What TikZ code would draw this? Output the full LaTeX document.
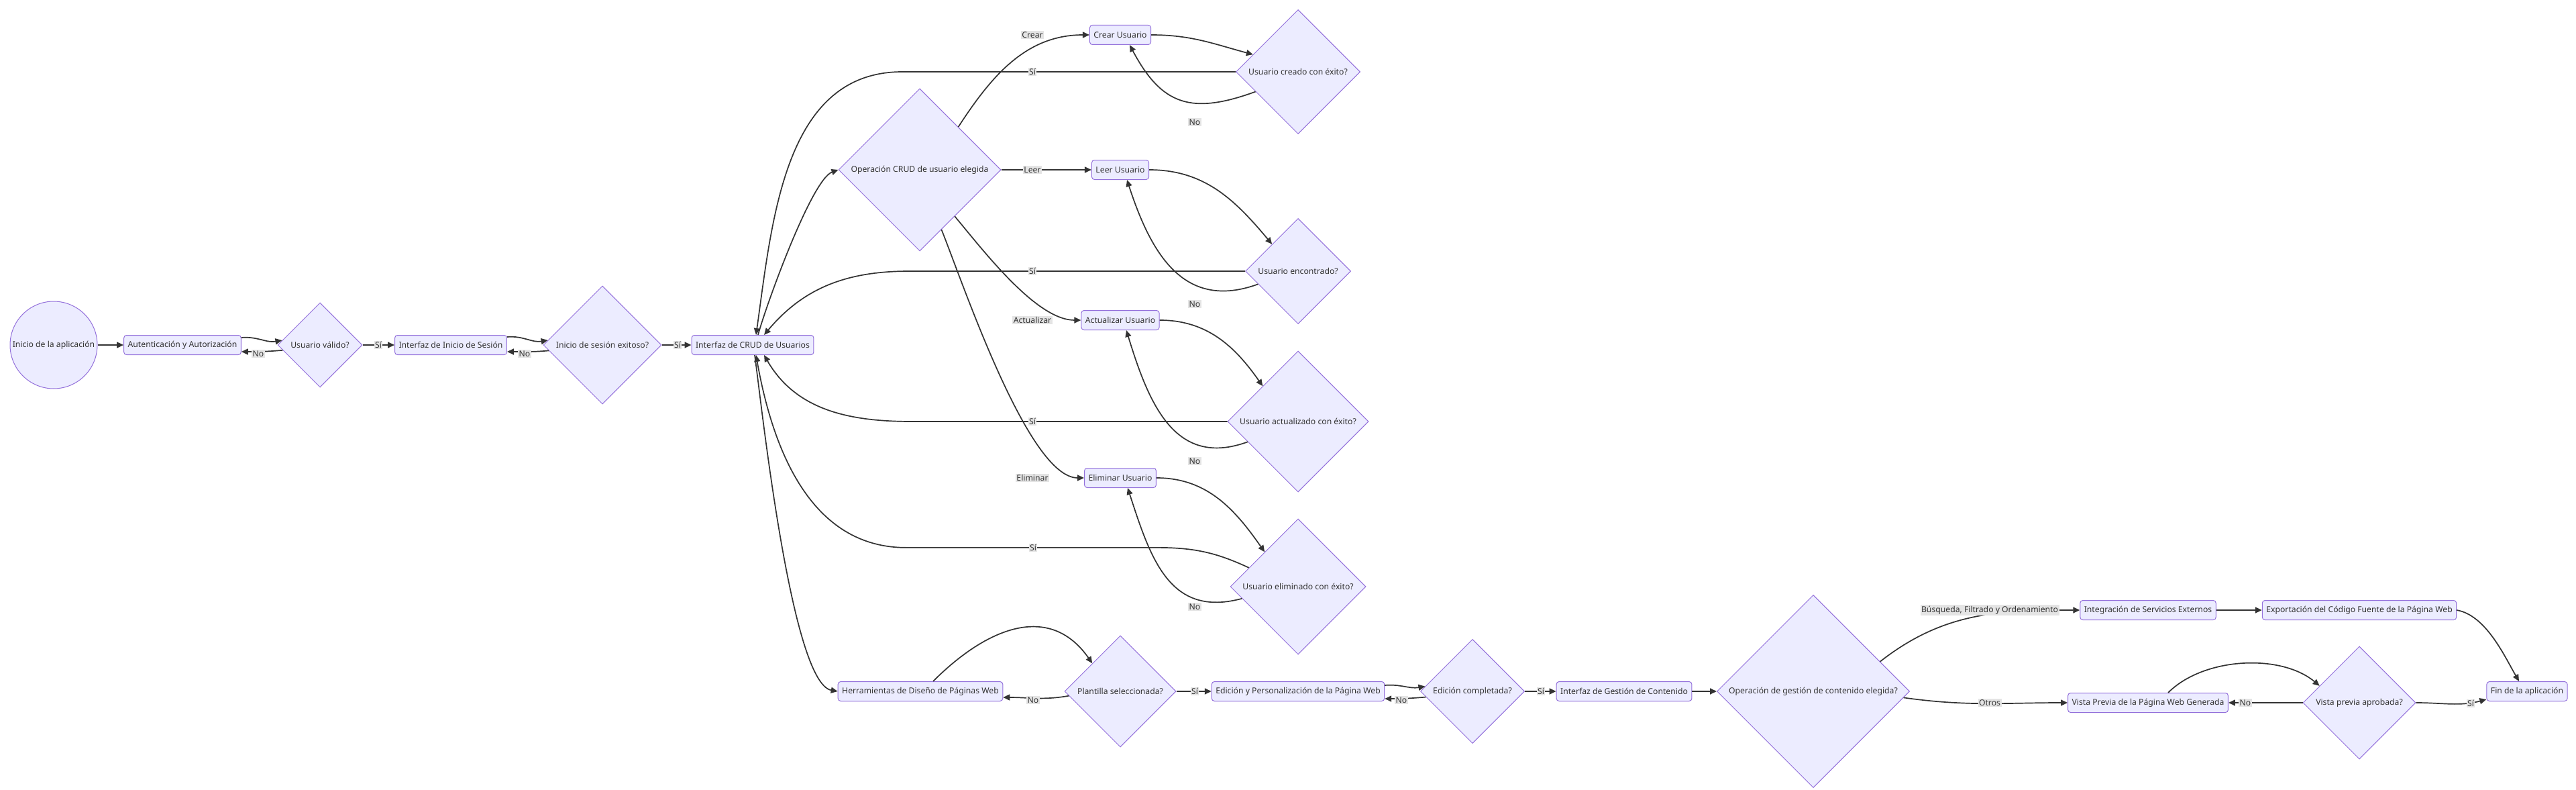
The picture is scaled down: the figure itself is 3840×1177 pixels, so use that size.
\documentclass[tikz,border=0pt]{standalone}
\usepackage{fontspec}
\setmainfont{Noto Sans}
\usetikzlibrary{shapes.geometric,arrows.meta}
\definecolor{nodefill}{HTML}{ECECFF}
\definecolor{nodeline}{HTML}{9370DB}
\definecolor{ink}{HTML}{333333}
\definecolor{lblfill}{HTML}{E4E4E4}

\begin{document}
\begin{tikzpicture}[x=1pt,y=-1pt,
		font=\fontsize{12.2}{15}\selectfont,
		proc/.style={draw=nodeline,fill=nodefill,line width=1pt,rounded corners=4pt,minimum height=29pt,inner xsep=6pt,text=ink},
		dec/.style={diamond,aspect=1,draw=nodeline,fill=nodefill,line width=1pt,inner sep=0pt,text=ink,minimum size=#1},
		flow/.style={draw=ink,line width=1.7pt,-{Triangle[length=10pt,width=9pt]}},
		lbl/.style={fill=lblfill,inner sep=1.5pt,text=ink}]
		% canvas
		\fill[white] (0,0) rectangle (3840,1177);
		% login chain
		\node[circle,draw=nodeline,fill=nodefill,line width=1pt,minimum size=130pt,inner sep=0pt,text=ink] (inicio) at (80,514) {Inicio de la aplicación};
		\node[proc] (auth) at (272,514) {Autenticación y Autorización};
		\node[dec=126pt] (valido) at (477,514) {Usuario válido?};
		\node[proc] (login) at (672,514) {Interfaz de Inicio de Sesión};
		\node[dec=176pt] (exitoso) at (898,514) {Inicio de sesión exitoso?};
		\node[proc] (crud) at (1122,514) {Interfaz de CRUD de Usuarios};
		% crud operations
		\node[dec=242pt] (opcrud) at (1371,253) {Operación CRUD de usuario elegida};
		\node[proc] (crear) at (1670,52) {Crear Usuario};
		\node[proc] (leer) at (1670,253) {Leer Usuario};
		\node[proc] (actualizar) at (1670,477) {Actualizar Usuario};
		\node[proc] (eliminar) at (1670,712) {Eliminar Usuario};
		\node[dec=185pt] (creado) at (1935,107) {Usuario creado con éxito?};
		\node[dec=157pt] (encontrado) at (1935,404) {Usuario encontrado?};
		\node[dec=210pt] (actualizado) at (1935,628) {Usuario actualizado con éxito?};
		\node[dec=202pt] (eliminado) at (1935,874) {Usuario eliminado con éxito?};
		% web design
		\node[proc] (herr) at (1372,1030) {Herramientas de Diseño de Páginas Web};
		\node[dec=166pt] (plantilla) at (1670,1030) {Plantilla seleccionada?};
		\node[proc] (edicion) at (1935,1030) {Edición y Personalización de la Página Web};
		\node[dec=155pt] (completada) at (2195,1030) {Edición completada?};
		\node[proc] (gestion) at (2421,1030) {Interfaz de Gestión de Contenido};
		\node[dec=287pt] (opgestion) at (2703,1030) {Operación de gestión de contenido elegida?};
		\node[proc] (integracion) at (3202,909) {Integración de Servicios Externos};
		\node[proc] (exportacion) at (3517,909) {Exportación del Código Fuente de la Página Web};
		\node[proc] (vista) at (3202,1047) {Vista Previa de la Página Web Generada};
		\node[dec=168pt] (aprobada) at (3517,1047) {Vista previa aprobada?};
		\node[proc] (fin) at (3767,1030) {Fin de la aplicación};
		% arrows login
		\draw[flow] (inicio) -- (auth);
		\draw[flow] ([yshift=11pt]auth.east) to[out=5,in=190] (valido.173);
		\draw[flow] (valido.188) to[out=185,in=0] ([yshift=-10pt]auth.east);
		\draw[flow] (valido) -- (login);
		\draw[flow] ([yshift=12pt]login.east) to[out=5,in=190] (exitoso.175);
		\draw[flow] (exitoso.186) to[out=185,in=0] ([yshift=-10pt]login.east);
		\draw[flow] (exitoso) -- (crud);
		% arrows crud
		\draw[flow] ([xshift=8pt]crud.north) to[out=75,in=200,looseness=0.4] (opcrud.west);
		\draw[flow] ([xshift=3pt]crud.south) to[out=-82,in=170,looseness=0.35] (herr.west);
		\draw[flow] (opcrud.48) to[out=57,in=180] (crear.west);
		\draw[flow] (opcrud) -- (leer);
		\draw[flow] (opcrud.-53) to[out=-50,in=180,looseness=0.7] (actualizar.west);
		\draw[flow] (opcrud.-70) to[out=-68,in=180,looseness=0.5] (eliminar.west);
		\draw[flow] (crear.east) to[out=0,in=165] (creado.159);
		\draw[flow] (creado.205) to[out=200,in=-62,looseness=1.3] ([xshift=14pt]crear.south);
		\draw[flow] (creado.west) -- ++(-497,0) to[out=180,in=82] ([xshift=5pt]crud.north);
		\draw[flow] (leer.east) to[out=0,in=130] (encontrado.134);
		\draw[flow] (encontrado.198) to[out=200,in=-72,looseness=1.2] ([xshift=10pt]leer.south);
		\draw[flow] (encontrado.west) -- ++(-500,0) to[out=180,in=50] ([xshift=17pt]crud.north);
		\draw[flow] (actualizar.east) to[out=0,in=125] (actualizado.135);
		\draw[flow] (actualizado.202) to[out=200,in=-73,looseness=1.2] ([xshift=9pt]actualizar.south);
		\draw[flow] (actualizado.west) -- ++(-470,0) to[out=180,in=-60] ([xshift=17pt]crud.south);
		\draw[flow] (eliminar.east) to[out=0,in=125] (eliminado.134);
		\draw[flow] (eliminado.192) to[out=195,in=-72,looseness=1.2] ([xshift=11pt]eliminar.south);
		\draw[flow] (eliminado.159) to[out=155,in=0] ++(-138,-30) -- ++(-373,0) to[out=180,in=-80] ([xshift=5pt]crud.south);
		% arrows web design
		\draw[flow] ([xshift=19pt]herr.north) to[out=45,in=125,looseness=1.2] (plantilla.135);
		\draw[flow] (plantilla.185) to[out=190,in=0] ([yshift=-9pt]herr.east);
		\draw[flow] (plantilla) -- (edicion);
		\draw[flow] ([yshift=9pt]edicion.east) to[out=5,in=190] (completada.174);
		\draw[flow] (completada.187) to[out=185,in=0] ([yshift=-11pt]edicion.east);
		\draw[flow] (completada) -- (gestion);
		\draw[flow] (gestion) -- (opgestion);
		% arrows content
		\draw[flow] (opgestion.24) to[out=38,in=180] (integracion.west);
		\draw[flow] (opgestion.-4) to[out=-8,in=180] (vista.west);
		\draw[flow] (integracion) -- (exportacion);
		\draw[flow] (exportacion.east) to[out=-10,in=120,looseness=0.8] ([xshift=-12pt]fin.north);
		\draw[flow] ([xshift=30pt]vista.north) to[out=45,in=140,looseness=0.85] (aprobada.157);
		\draw[flow] (aprobada) -- (vista);
		\draw[flow] (aprobada.east) to[out=0,in=195] ([yshift=-12pt]fin.west);
		% labels
		\node[lbl] (lvalidono) at (385,527) {No};
		\node[lbl] (lvalidosi) at (564,514) {Sí};
		\node[lbl] (lexitosono) at (782,527) {No};
		\node[lbl] (lexitososi) at (1010,514) {Sí};
		\node[lbl] (lcrear) at (1539,52) {Crear};
		\node[lbl] (lcreadosi) at (1539,107) {Sí};
		\node[lbl] (lcreadono) at (1781,182) {No};
		\node[lbl] (lleer) at (1539,253) {Leer};
		\node[lbl] (lencontradosi) at (1539,404) {Sí};
		\node[lbl] (lencontradono) at (1781,453) {No};
		\node[lbl] (lactualizar) at (1539,477) {Actualizar};
		\node[lbl] (lactualizadosi) at (1539,628) {Sí};
		\node[lbl] (lactualizadono) at (1781,687) {No};
		\node[lbl] (leliminar) at (1539,712) {Eliminar};
		\node[lbl] (leliminadosi) at (1540,816) {Sí};
		\node[lbl] (leliminadono) at (1781,904) {No};
		\node[lbl] (lplantillano) at (1540,1043) {No};
		\node[lbl] (lplantillasi) at (1781,1030) {Sí};
		\node[lbl] (lcompletadano) at (2089,1043) {No};
		\node[lbl] (lcompletadasi) at (2297,1030) {Sí};
		\node[lbl] (lbusqueda) at (2966,909) {Búsqueda, Filtrado y Ordenamiento};
		\node[lbl] (lotros) at (2966,1047) {Otros};
		\node[lbl] (laprobadano) at (3347,1047) {No};
		\node[lbl] (laprobadasi) at (3683,1048) {Sí};
	\end{tikzpicture}
\end{document}
